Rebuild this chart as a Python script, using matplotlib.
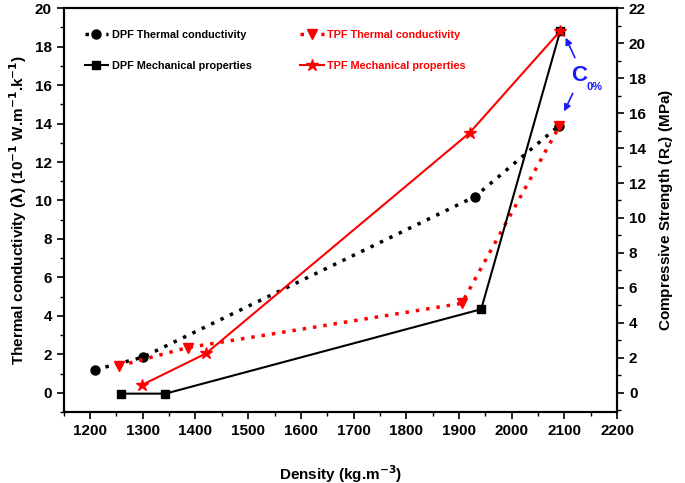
import numpy as np
import matplotlib.pyplot as plt

plt.rcParams['font.family'] = ['Liberation Sans', 'DejaVu Sans']
plt.rcParams['font.weight'] = 'bold'
plt.rcParams['mathtext.default'] = 'bf'

# Thermal conductivity (left axis, 10^-1 W/m.K)
dpf_tc_x = [1210, 1300, 1930, 2090]
dpf_tc_y = [1.2, 1.85, 10.2, 13.9]
tpf_tc_x = [1255, 1385, 1905, 2090]
tpf_tc_y = [1.4, 2.35, 4.65, 13.85]

# Compressive strength (right axis, MPa)
dpf_rc_x = [1258, 1343, 1942, 2092]
dpf_rc_y = [-0.05, -0.05, 4.78, 20.7]
tpf_rc_x = [1298, 1420, 1920, 2092]
tpf_rc_y = [0.44, 2.25, 14.87, 20.7]

fig = plt.figure(figsize=(6.85, 4.83), dpi=100)
ax = fig.add_axes([0.093, 0.147, 0.808, 0.836])
ax2 = ax.twinx()

dots = (0, (1, 2))
l1, = ax.plot(dpf_tc_x, dpf_tc_y, linestyle=dots, color='black', lw=2.5, marker='o', ms=6.5,
              label='DPF Thermal conductivity')
l2, = ax.plot(tpf_tc_x, tpf_tc_y, linestyle=dots, color='red', lw=2.5, marker='v', ms=7.5,
              label='TPF Thermal conductivity')
l3, = ax2.plot(dpf_rc_x, dpf_rc_y, '-', color='black', lw=1.5, marker='s', ms=6,
               label='DPF Mechanical properties')
l4, = ax2.plot(tpf_rc_x, tpf_rc_y, '-', color='red', lw=1.5, marker='*', ms=9,
               label='TPF Mechanical properties')

ax.set_xlim(1150, 2200)
ax.set_ylim(-1, 20)
ax2.set_ylim(-1.1, 22)
ax.set_xticks(np.arange(1200, 2201, 100))
ax.set_xticks(np.arange(1150, 2201, 50), minor=True)
ax.set_yticks(np.arange(0, 21, 2))
ax.set_yticks(np.arange(-1, 21, 1), minor=True)
ax2.set_yticks(np.arange(0, 23, 2))
ax2.set_yticks(np.arange(-1, 23, 1), minor=True)

for a in (ax, ax2):
    a.tick_params(which='major', direction='out', length=5, width=1.2, labelsize=11)
    a.tick_params(which='minor', direction='out', length=3, width=1.0)
    for s in a.spines.values():
        s.set_linewidth(1.5)

ax.set_xlabel('Density (kg.m$^{-3}$)', fontsize=11, fontweight='bold', labelpad=18)
ax.set_ylabel('Thermal conductivity ($\\lambda$) (10$^{-1}$ W.m$^{-1}$.k$^{-1}$)',
              fontsize=11, fontweight='bold')
ax2.set_ylabel('Compressive Strength (R$_c$) (MPa)', fontsize=11, fontweight='bold',
               labelpad=8)

leg = ax.legend(handles=[l1, l3, l2, l4], ncol=2, loc='upper left',
                bbox_to_anchor=(0.02, 0.97), frameon=False, fontsize=7.8,
                handlelength=2.2, handletextpad=0.3, columnspacing=4.5,
                labelspacing=1.9)
for txt, col in zip(leg.get_texts(), ['black', 'black', 'red', 'red']):
    txt.set_color(col)

ax.text(2127, 16.5, 'C', color='#1a1aff', fontsize=16, fontweight='bold',
        ha='center', va='center')
ax.text(2141, 15.9, '0%', color='#1a1aff', fontsize=8, fontweight='bold',
        ha='left', va='center')
ax.annotate('', xy=(2100, 18.6), xytext=(2122, 17.3),
            arrowprops=dict(arrowstyle='-|>', color='#1a1aff', lw=1.2))
ax.annotate('', xy=(2097, 14.5), xytext=(2118, 15.7),
            arrowprops=dict(arrowstyle='-|>', color='#1a1aff', lw=1.2))

fig.savefig('out.png', dpi=100)
